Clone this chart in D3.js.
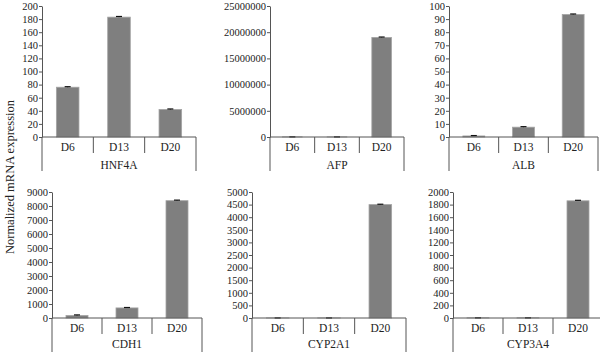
<!DOCTYPE html>
<html><head><meta charset="utf-8">
<script src="https://cdn.jsdelivr.net/npm/d3@7"></script>
<style>body{margin:0;background:#fff}svg{display:block}text{font-family:"Liberation Serif","DejaVu Serif",serif;fill:#222}</style>
</head><body><svg id="c" width="600" height="352"></svg>
<script>
const categories = ["D6","D13","D20"];
const genes = ["HNF4A","AFP","ALB","CDH1","CYP2A1","CYP3A4"];
const hnf4a = [76, 183, 42];
const afp = [20000, 15000, 19000000];
const alb = [0.8, 7.5, 93.5];
const cdh1 = [180, 720, 8380];
const cyp2a1 = [2, 2, 4500];
const cyp3a4 = [2, 2, 1860];
const hnf4aErr = [0.8, 1, 0.8];
const afpErr = [0, 0, 80000];
const albErr = [0.3, 0.4, 0.4];
const cdh1Err = [40, 30, 40];
const cyp2a1Err = [0, 0, 15];
const cyp3a4Err = [0, 0, 8];
const yMax = [200, 25000000, 100, 9000, 5000, 2000];
const yStep = [20, 5000000, 10, 1000, 500, 200];
const yTitle = "Normalized mRNA expression";

const values = [hnf4a, afp, alb, cdh1, cyp2a1, cyp3a4];
const errs = [hnf4aErr, afpErr, albErr, cdh1Err, cyp2a1Err, cyp3a4Err];

const layout = [
  {x0:42, x1:196, top:6, base:137, sep:153, end:171, cat:151, gene:169},
  {x0:270, x1:404, top:6, base:137, sep:153, end:171, cat:151, gene:169},
  {x0:449, x1:598, top:6, base:137, sep:153, end:171, cat:151, gene:169},
  {x0:52, x1:202, top:192, base:318, sep:334, end:352, cat:332, gene:348},
  {x0:252, x1:406, top:192, base:318, sep:334, end:352, cat:332, gene:348},
  {x0:453, x1:603, top:192, base:318, sep:334, end:352, cat:332, gene:348}
];

const svg = d3.select("#c");
const lineCol = "#555";

genes.forEach((g, i) => {
  const L = layout[i];
  const x = d3.scaleBand().domain(categories).range([L.x0, L.x1]).padding(0);
  const y = d3.scaleLinear().domain([0, yMax[i]]).range([L.base, L.top]);
  const ticks = d3.range(0, yMax[i] + yStep[i]/2, yStep[i]);
  const gp = svg.append("g");
  const ax = d3.axisLeft(y).tickValues(ticks).tickSize(3).tickSizeOuter(0).tickFormat(d3.format("d"));
  const ag = gp.append("g").attr("transform", `translate(${L.x0},0)`).call(ax);
  ag.select(".domain").attr("stroke", lineCol);
  ag.selectAll(".tick line").attr("stroke", lineCol);
  ag.selectAll(".tick text").attr("font-size", 10.5).attr("x", -4).style("font-family", '"Liberation Serif",serif').attr("fill", "#222");
  // bars
  const bw = x.bandwidth() * 0.44;
  gp.selectAll("rect.bar").data(values[i]).join("rect")
    .attr("x", (d, j) => x(categories[j]) + (x.bandwidth() - bw) / 2)
    .attr("y", d => y(d))
    .attr("width", bw)
    .attr("height", d => L.base - y(d))
    .attr("fill", "#7f7f7f").attr("stroke", "#a3a3a3").attr("stroke-width", 0.8);
  // error bars
  values[i].forEach((d, j) => {
    const e = errs[i][j];
    const cx = x(categories[j]) + x.bandwidth() / 2;
    gp.append("line").attr("x1", cx).attr("x2", cx).attr("y1", y(d + e)).attr("y2", y(d)).attr("stroke", "#111");
    gp.append("line").attr("x1", cx - 3).attr("x2", cx + 3).attr("y1", y(d + e)).attr("y2", y(d + e)).attr("stroke", "#111").attr("stroke-width", 1.2);
  });
  // baseline
  gp.append("line").attr("x1", L.x0).attr("x2", L.x1).attr("y1", L.base).attr("y2", L.base).attr("stroke", lineCol);
  // left & right outer lines
  gp.append("line").attr("x1", L.x0).attr("x2", L.x0).attr("y1", L.base).attr("y2", L.end).attr("stroke", lineCol);
  gp.append("line").attr("x1", L.x1).attr("x2", L.x1).attr("y1", L.base).attr("y2", L.end).attr("stroke", lineCol);
  // separators
  categories.slice(1).forEach(c => {
    gp.append("line").attr("x1", x(c)).attr("x2", x(c)).attr("y1", L.base).attr("y2", L.sep).attr("stroke", lineCol);
  });
  // category labels
  categories.forEach(c => {
    gp.append("text").attr("x", x(c) + x.bandwidth()/2).attr("y", L.cat).attr("text-anchor", "middle").attr("font-size", 11.5).text(c);
  });
  gp.append("text").attr("x", (L.x0 + L.x1)/2).attr("y", L.gene).attr("text-anchor", "middle").attr("font-size", 11.5).text(g);
});

svg.append("text").attr("transform", "translate(14,177) rotate(-90)").attr("text-anchor", "middle").attr("font-size", 12.5).text(yTitle);
</script></body></html>
